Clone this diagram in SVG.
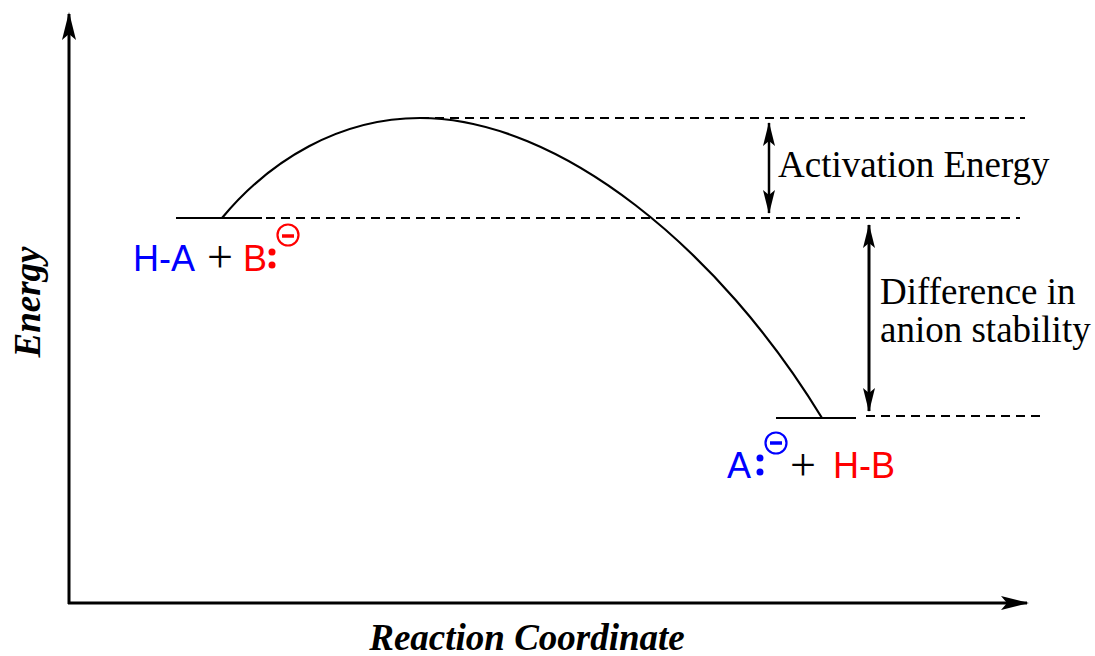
<svg xmlns="http://www.w3.org/2000/svg" width="1095" height="656" viewBox="0 0 1095 656">
<style>
.ax{stroke:#000;stroke-width:3;fill:none}
.ln{stroke:#000;stroke-width:2.2;fill:none}
.ds{stroke:#000;stroke-width:2;fill:none;stroke-dasharray:9,6}
.serif{font-family:"Liberation Serif",serif;font-size:37px;fill:#000}
.lab{font-family:"Liberation Serif",serif;font-size:37px;font-weight:bold;font-style:italic;fill:#000}
.sans{font-family:"Liberation Sans",Arial,sans-serif;font-size:36px}
.plus{font-family:"Liberation Serif",serif;font-size:46px;fill:#000}
.blue{fill:#0000ff}
.red{fill:#ff0000}
</style>
<defs>
<marker id="ah" viewBox="0 0 28 14" refX="26" refY="7" markerWidth="28" markerHeight="14" markerUnits="userSpaceOnUse" orient="auto-start-reverse">
<path d="M0,0 L28,7 L0,14 L6,7 Z" fill="#000"/>
</marker>
<marker id="sh" viewBox="0 0 24 12" refX="23" refY="6" markerWidth="24" markerHeight="12" markerUnits="userSpaceOnUse" orient="auto-start-reverse">
<path d="M0,0 L24,6 L0,12 L5,6 Z" fill="#000"/>
</marker>
</defs>
<g id="axes">
<line class="ax" x1="69" y1="604" x2="69" y2="14" marker-end="url(#ah)"/>
<line class="ax" x1="68" y1="603" x2="1027" y2="603" marker-end="url(#ah)"/>
<text class="lab" transform="translate(40,302) rotate(-90)" text-anchor="middle">Energy</text>
<text class="lab" x="527" y="650" text-anchor="middle">Reaction Coordinate</text>
</g>
<g id="connectors">
<path class="ln" d="M222,218 C270,160 340,118 420,118 C560,118 720,250 822,418"/>
<line class="ln" x1="176" y1="218" x2="262" y2="218"/>
<line class="ds" x1="266" y1="218" x2="1020" y2="218"/>
<line class="ds" x1="420" y1="118" x2="1025" y2="118"/>
<line class="ln" x1="776" y1="418" x2="856" y2="418"/>
<line class="ds" x1="866" y1="416" x2="1040" y2="416"/>
<line stroke="#000" stroke-width="2.5" x1="769" y1="123" x2="769" y2="213" marker-start="url(#sh)" marker-end="url(#sh)"/>
<line stroke="#000" stroke-width="3" x1="869" y1="225" x2="869" y2="411" marker-start="url(#sh)" marker-end="url(#sh)"/>
</g>
<g id="activation-label">
<text class="serif" x="778" y="177">Activation Energy</text>
</g>
<g id="difference-label">
<text class="serif" x="880" y="304">Difference in</text>
<text class="serif" x="880" y="342">anion stability</text>
</g>
<g id="reactants">
<text class="sans blue" x="133" y="271">H-A</text>
<text class="plus" x="207" y="272">+</text>
<text class="sans red" x="243" y="271">B</text>
<circle cx="272" cy="252" r="3.5" fill="#ff0000"/>
<circle cx="272" cy="265" r="3.5" fill="#ff0000"/>
<circle cx="288" cy="235" r="10.5" fill="none" stroke="#ff0000" stroke-width="2.2"/>
<line x1="282" y1="236" x2="294" y2="236" stroke="#ff0000" stroke-width="3.5"/>
</g>
<g id="products">
<text class="sans blue" x="727" y="478">A</text>
<circle cx="760" cy="458" r="3.5" fill="#0000ff"/>
<circle cx="760" cy="472" r="3.5" fill="#0000ff"/>
<circle cx="776" cy="443" r="10.5" fill="none" stroke="#0000ff" stroke-width="2.2"/>
<line x1="770" y1="443" x2="782" y2="443" stroke="#0000ff" stroke-width="3.5"/>
<text class="plus" x="790" y="480">+</text>
<text class="sans red" x="833" y="478">H-B</text>
</g>
</svg>
